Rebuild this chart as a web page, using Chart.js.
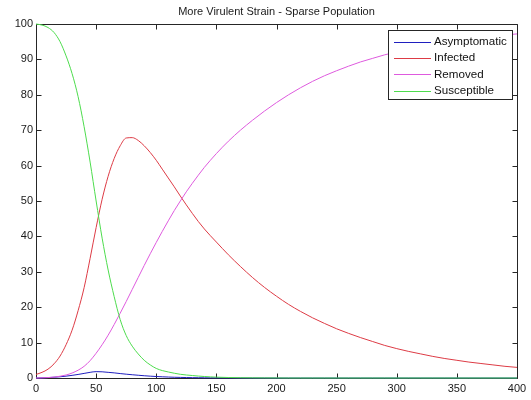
<!DOCTYPE html>
<html lang="en">
<head>
<meta charset="UTF-8">
<title>More Virulent Strain - Sparse Population</title>
<style>
  html, body { margin: 0; padding: 0; background: #ffffff; }
  canvas { display: block; }
</style>
</head>
<body>
<canvas id="sirChart" width="531" height="400"></canvas>

<script src="https://cdn.jsdelivr.net/npm/chart.js"></script>
<script>
  const chartTitle = 'More Virulent Strain - Sparse Population';
  const seriesLabels = ['Asymptomatic', 'Infected', 'Removed', 'Susceptible'];
  const seriesColors = ['#1f1fbf', '#dd3b45', '#de5ade', '#4ddc4d'];

  // days: every 5 up to 150, then every 10
  const times = [0, 5, 10, 15, 20, 25, 30, 35, 40, 45, 50, 55, 60, 65, 70, 75, 80, 85, 90, 95,
    100, 105, 110, 115, 120, 125, 130, 135, 140, 145, 150,
    160, 170, 180, 190, 200, 210, 220, 230, 240, 250, 260, 270, 280, 290, 300,
    310, 320, 330, 340, 350, 360, 370, 380, 390, 400];

  const asymptomatic = [0, 0.05, 0.12, 0.22, 0.35, 0.52, 0.75, 1.0, 1.3, 1.6, 1.8, 1.75, 1.6, 1.45, 1.25, 1.08, 0.92, 0.78, 0.64, 0.52,
    0.42, 0.34, 0.27, 0.21, 0.17, 0.13, 0.1, 0.08, 0.06, 0.05, 0.04,
    0.03, 0.02, 0.01, 0.01, 0, 0, 0, 0, 0, 0, 0, 0, 0, 0, 0,
    0, 0, 0, 0, 0, 0, 0, 0, 0, 0];
  const infected = [1, 1.6, 2.5, 4, 6.2, 9.4, 13.5, 19, 25.5, 33.8, 42.5, 50.5, 57, 62, 65.6, 67.8, 67.9, 67.1, 65.6, 63.7,
    61.5, 59, 56.5, 54, 51.4, 48.9, 46.5, 44.2, 42.1, 40.2, 38.4,
    34.8, 31.5, 28.4, 25.6, 23.1, 20.8, 18.8, 17.0, 15.4, 13.9, 12.6, 11.4, 10.3, 9.2, 8.3,
    7.5, 6.8, 6.1, 5.5, 5.0, 4.5, 4.1, 3.7, 3.3, 3.0];
  const removed = [0, 0.04, 0.12, 0.25, 0.5, 0.85, 1.4, 2.2, 3.3, 4.9, 7.0, 9.4, 12.1, 15.1, 18.3, 21.6, 25.0, 28.4, 31.8, 35.1,
    38.3, 41.4, 44.4, 47.3, 50.0, 52.6, 55.0, 57.3, 59.5, 61.5, 63.4,
    66.9, 70.0, 72.8, 75.4, 77.8, 80.0, 82.0, 83.8, 85.4, 86.8, 88.1, 89.3, 90.3, 91.3, 92.1,
    92.9, 93.6, 94.2, 94.8, 95.3, 95.8, 96.2, 96.6, 96.9, 97.2];
  const susceptible = [100, 99.7, 99, 97.6, 95, 91, 86, 79.5, 71, 61, 50, 39.5, 30.5, 23, 16.5, 12, 9, 6.8, 5, 3.7,
    2.7, 2.1, 1.7, 1.35, 1.05, 0.85, 0.7, 0.55, 0.42, 0.32, 0.24,
    0.14, 0.08, 0.05, 0.03, 0.02, 0, 0, 0, 0, 0, 0, 0, 0, 0, 0,
    0, 0, 0, 0, 0, 0, 0, 0, 0, 0];

  const xTicks = [0, 50, 100, 150, 200, 250, 300, 350, 400];
  const yTicks = [0, 10, 20, 30, 40, 50, 60, 70, 80, 90, 100];

  const seriesValues = [asymptomatic, infected, removed, susceptible];
  const axisColor = '#262626';
  const fontFamily = '"Liberation Sans", Arial, sans-serif';

  // box round the axes plus inward tick marks, like the original plot
  const axesBox = {
    id: 'axesBox',
    beforeDatasetsDraw(chart) {
      const { ctx, chartArea: a, scales } = chart;
      const l = Math.round(a.left) + 0.5, r = Math.round(a.right) + 0.5;
      const t = Math.round(a.top) + 0.5, b = Math.round(a.bottom) + 0.5;
      ctx.save();
      ctx.strokeStyle = axisColor;
      ctx.lineWidth = 1;
      ctx.beginPath();
      ctx.rect(l, t, r - l, b - t);
      xTicks.forEach(v => {
        const px = Math.round(scales.x.getPixelForValue(v)) + 0.5;
        ctx.moveTo(px, b); ctx.lineTo(px, b - 5);
        ctx.moveTo(px, t); ctx.lineTo(px, t + 5);
      });
      yTicks.forEach(v => {
        const py = Math.round(scales.y.getPixelForValue(v)) + 0.5;
        ctx.moveTo(l, py); ctx.lineTo(l + 5, py);
        ctx.moveTo(r, py); ctx.lineTo(r - 5, py);
      });
      ctx.stroke();
      ctx.restore();
    },
    afterDraw(chart) {
      const { ctx, chartArea: a } = chart;
      const boxR = Math.round(a.right) - 5, boxT = Math.round(a.top) + 6;
      const boxW = 124, boxH = 69;
      const boxL = boxR - boxW;
      ctx.save();
      ctx.fillStyle = '#ffffff';
      ctx.fillRect(boxL, boxT, boxW, boxH);
      ctx.strokeStyle = axisColor;
      ctx.lineWidth = 1;
      ctx.strokeRect(boxL + 0.5, boxT + 0.5, boxW, boxH);
      ctx.font = '11.6px ' + fontFamily;
      ctx.textBaseline = 'middle';
      ctx.textAlign = 'left';
      seriesLabels.forEach((label, i) => {
        const y = boxT + 12 + i * 16.2;
        ctx.strokeStyle = seriesColors[i];
        ctx.beginPath();
        ctx.moveTo(boxL + 6, Math.round(y) + 0.5);
        ctx.lineTo(boxL + 43, Math.round(y) + 0.5);
        ctx.stroke();
        ctx.fillStyle = '#111111';
        ctx.fillText(label, boxL + 46, y);
      });
      ctx.restore();
    }
  };

  new Chart(document.getElementById('sirChart'), {
    type: 'line',
    data: {
      datasets: seriesLabels.map((label, i) => ({
        label: label,
        data: times.map((t, k) => ({ x: t, y: seriesValues[i][k] })),
        borderColor: seriesColors[i],
        borderWidth: 1,
        pointRadius: 0,
        fill: false,
        cubicInterpolationMode: 'monotone',
        clip: false,
        order: seriesLabels.length - i
      }))
    },
    options: {
      responsive: false,
      animation: false,
      layout: { padding: { left: 8, right: 14, top: 0, bottom: 0 } },
      plugins: {
        legend: { display: false },
        tooltip: { enabled: false },
        title: {
          display: true,
          text: chartTitle,
          fullSize: false,
          color: '#1a1a1a',
          font: { family: fontFamily, size: 11, weight: 'normal', lineHeight: 1.2 },
          padding: { top: 5, bottom: 5.8 }
        }
      },
      scales: {
        x: {
          type: 'linear',
          min: 0,
          max: 400,
          grid: { display: false, drawTicks: false },
          border: { display: false },
          ticks: {
            stepSize: 50,
            padding: 4,
            maxRotation: 0,
            color: '#1a1a1a',
            font: { family: fontFamily, size: 11 }
          },
          afterFit(scale) { scale.height = 22; }
        },
        y: {
          min: 0,
          max: 100,
          grid: { display: false, drawTicks: false },
          border: { display: false },
          ticks: {
            stepSize: 10,
            padding: 3,
            color: '#1a1a1a',
            font: { family: fontFamily, size: 11 }
          },
          afterFit(scale) { scale.width = 28; }
        }
      }
    },
    plugins: [axesBox]
  });
</script>
</body>
</html>
